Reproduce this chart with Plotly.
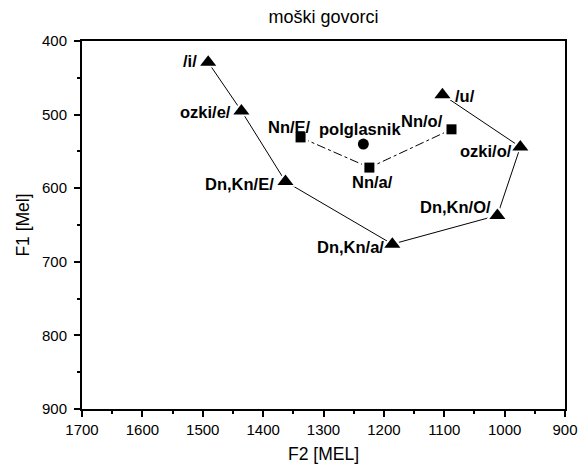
import plotly.graph_objects as go

# Triangles: vowel polygon (solid line)
tri_labels = ["/i/", "ozki/e/", "Dn,Kn/E/", "Dn,Kn/a/", "Dn,Kn/O/", "ozki/o/", "/u/"]
tri_f2 = [1491, 1436, 1363, 1186, 1012, 974, 1103]
tri_f1 = [429, 495, 591, 676, 637, 544, 473]

# Squares: Nn vowels (dash-dot line)
sq_labels = ["Nn/E/", "Nn/a/", "Nn/o/"]
sq_f2 = [1338, 1224, 1088]
sq_f1 = [531, 572, 520]

# Circle: schwa
schwa_label = ["polglasnik"]
schwa_f2 = [1234]
schwa_f1 = [540]

# label placement (anchor, xshift, yshift) in pixels
tri_pos = [("right", -9, 1), ("right", -8, -1), ("right", -9, -2), ("right", -6, -3),
           ("right", -4, 8), ("right", -6, -4), ("left", 11, -1)]
sq_pos = [("center", -11, 10), ("center", 3, -14), ("right", -7, 8)]
schwa_pos = [("center", -3, 15)]

FONT = "Liberation Sans, Arial, Helvetica, sans-serif"

fig = go.Figure()
# lines
fig.add_trace(go.Scatter(x=tri_f2, y=tri_f1, mode="lines",
                         line=dict(color="black", width=1),
                         showlegend=False, hoverinfo="skip"))
fig.add_trace(go.Scatter(x=sq_f2, y=sq_f1, mode="lines",
                         line=dict(color="black", width=1, dash="dashdot"),
                         showlegend=False, hoverinfo="skip"))
# white halos (line gap around symbols)
fig.add_trace(go.Scatter(x=tri_f2, y=tri_f1, mode="markers",
                         marker=dict(symbol="triangle-up", size=21, color="white"),
                         showlegend=False, hoverinfo="skip"))
fig.add_trace(go.Scatter(x=sq_f2, y=sq_f1, mode="markers",
                         marker=dict(symbol="square", size=15, color="white"),
                         showlegend=False, hoverinfo="skip"))
# symbols
fig.add_trace(go.Scatter(x=tri_f2, y=tri_f1, mode="markers",
                         marker=dict(symbol="triangle-up", size=14, color="black"),
                         showlegend=False, hoverinfo="skip"))
fig.add_trace(go.Scatter(x=sq_f2, y=sq_f1, mode="markers",
                         marker=dict(symbol="square", size=10, color="black"),
                         showlegend=False, hoverinfo="skip"))
fig.add_trace(go.Scatter(x=schwa_f2, y=schwa_f1, mode="markers",
                         marker=dict(symbol="circle", size=11, color="black"),
                         showlegend=False, hoverinfo="skip"))

for labels, xs, ys, pos in [(tri_labels, tri_f2, tri_f1, tri_pos),
                            (sq_labels, sq_f2, sq_f1, sq_pos),
                            (schwa_label, schwa_f2, schwa_f1, schwa_pos)]:
    for t, x, y, (anc, dx, dy) in zip(labels, xs, ys, pos):
        fig.add_annotation(x=x, y=y, text="<b>%s</b>" % t, showarrow=False,
                           xanchor=anc, yanchor="middle", xshift=dx, yshift=dy,
                           font=dict(family=FONT, size=16.5, color="black"))

axis_common = dict(
    showline=True, linecolor="black", linewidth=2, mirror=True,
    ticks="outside", ticklen=6, tickwidth=1.5, tickcolor="black",
    showgrid=False, zeroline=False, automargin=False,
    tickfont=dict(family=FONT, size=15, color="black"),
)

fig.update_xaxes(range=[1700, 900], tickmode="array",
                 tickvals=[1700, 1600, 1500, 1400, 1300, 1200, 1100, 1000, 900],
                 minor=dict(ticks="outside", ticklen=3, tickwidth=1.5, dtick=50,
                            tickcolor="black", showgrid=False),
                 title=dict(text="F2 [MEL]", font=dict(family=FONT, size=17.5, color="black"),
                            standoff=11),
                 **axis_common)
fig.update_yaxes(range=[900, 400], tickmode="array",
                 tickvals=[400, 500, 600, 700, 800, 900],
                 ticklabelstandoff=4,
                 minor=dict(ticks="outside", ticklen=3, tickwidth=1.5, dtick=50,
                            tickcolor="black", showgrid=False),
                 title=dict(text="F1 [Mel]", font=dict(family=FONT, size=17.5, color="black"),
                            standoff=8),
                 **axis_common)

fig.update_layout(
    width=582, height=469,
    margin=dict(l=82, r=17, t=41, b=60, autoexpand=False),
    paper_bgcolor="white", plot_bgcolor="white",
    title=dict(text="moški govorci", x=0.5, xref="paper", xanchor="center",
               y=1, yref="container", yanchor="top", pad=dict(t=10),
               font=dict(family=FONT, size=18, color="black")),
)

fig.write_html("out.html")
